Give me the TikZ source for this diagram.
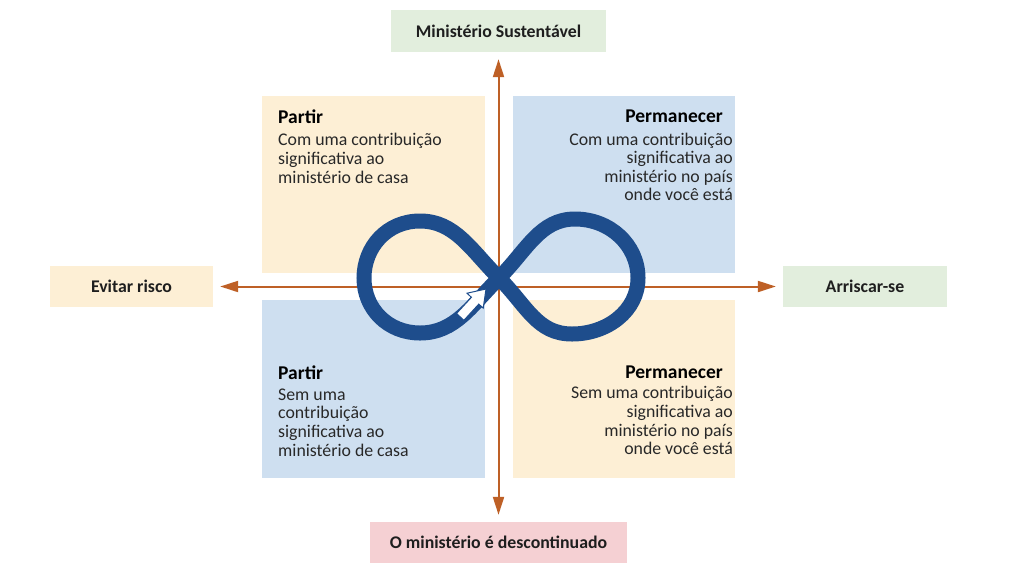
\documentclass[tikz,border=0pt]{standalone}
\usepackage{fontspec}
\setmainfont{Carlito}
\usetikzlibrary{arrows.meta}
\definecolor{lgreen}{RGB}{226,238,221}
\definecolor{lyellow}{RGB}{253,239,213}
\definecolor{lblue}{RGB}{206,223,240}
\definecolor{lpink}{RGB}{245,208,211}
\definecolor{axiscol}{RGB}{190,96,38}
\definecolor{infblue}{RGB}{30,77,140}
\definecolor{txt}{RGB}{30,30,30}
\definecolor{btxt}{RGB}{40,40,40}
\tikzset{
  lab/.style={inner sep=0pt, font=\fontsize{17.8}{20}\selectfont\bfseries, text=txt},
  hdr/.style={inner sep=0pt, font=\fontsize{19.5}{22}\selectfont\bfseries, text=black},
  bodyl/.style={inner sep=0pt, font=\fontsize{17.8}{19}\selectfont, text=btxt},
  axisarrow/.style={draw=axiscol, line width=2pt, -{Triangle[length=18pt,width=11pt]}, shorten >=7pt},
  infline/.style={draw=infblue, line width=15pt},
  blockarrow/.style={fill=white, draw=infblue, line width=1pt, line join=miter}
}
\begin{document}
\begin{tikzpicture}[x=1pt,y=-1pt]
\useasboundingbox (0,0) rectangle (1024,574);
\fill[white] (0,0) rectangle (1024,574);
% quadrants
\fill[lyellow] (262,96) rectangle (485,273);
\fill[lblue] (513,96) rectangle (735,273);
\fill[lblue] (262,300) rectangle (485,478);
\fill[lyellow] (513,300) rectangle (735,478);
% labels
\node[lab, fill=lgreen, minimum width=215pt, minimum height=42pt] (top) at (498.5,31) {Ministério Sustentável};
\node[lab, fill=lyellow, minimum width=163pt, minimum height=41pt] (left) at (131.5,286.5) {Evitar risco};
\node[lab, fill=lgreen, minimum width=164pt, minimum height=41pt] (right) at (865,286.5) {Arriscar-se};
\node[lab, fill=lpink, minimum width=257pt, minimum height=41pt] (bottom) at (498.5,542.5) {O ministério é descontinuado};
% axes
\coordinate (O) at (498.5,286.5);
\draw[axisarrow] (O) -- (top.south);
\draw[axisarrow] (O) -- (bottom.north);
\draw[axisarrow] (O) -- (left.east);
\draw[axisarrow] (O) -- (right.west);
% infinity
\coordinate (C) at (499,278);
\coordinate (RT) at (575,219);
\coordinate (RR) at (638,278);
\coordinate (RB) at (572,334);
\coordinate (LT) at (420,221);
\coordinate (LL) at (364,278);
\coordinate (LB) at (420,333);
\draw[infline] (C) .. controls (527,250) and (540,219) .. (RT)
  .. controls (610,219) and (638,245) .. (RR)
  .. controls (638,311) and (607,334) .. (RB)
  .. controls (537,334) and (527,306) .. (C)
  .. controls (471,250) and (455,221) .. (LT)
  .. controls (387,221) and (364,247) .. (LL)
  .. controls (364,309) and (388,333) .. (LB)
  .. controls (455,333) and (471,306) .. (C) -- cycle;
\draw[blockarrow] (486,289) -- (483.2,308.2) -- (478.8,304.1) -- (463.9,320.3) -- (456.5,313.5) -- (471.4,297.3) -- (467.0,293.2) -- cycle;
% TL text
\node[hdr, anchor=base west] (tlh) at (278,123) {Partir};
\node[bodyl, anchor=base west] (tl1) at (278,145) {Com uma contribuição};
\node[bodyl, anchor=base west] (tl2) at (278,164) {significativa ao};
\node[bodyl, anchor=base west] (tl3) at (278,183) {ministério de casa};
% TR text
\node[hdr, anchor=base east] (trh) at (723,122) {Permanecer};
\node[bodyl, anchor=base east] (tr1) at (733,145) {Com uma contribuição};
\node[bodyl, anchor=base east] (tr2) at (733,163.5) {significativa ao};
\node[bodyl, anchor=base east] (tr3) at (733,182) {ministério no país};
\node[bodyl, anchor=base east] (tr4) at (733,200) {onde você está};
% BL text
\node[hdr, anchor=base west] (blh) at (278,379) {Partir};
\node[bodyl, anchor=base west] (bl1) at (278,400) {Sem uma};
\node[bodyl, anchor=base west] (bl2) at (278,418.5) {contribuição};
\node[bodyl, anchor=base west] (bl3) at (278,437) {significativa ao};
\node[bodyl, anchor=base west] (bl4) at (278,456) {ministério de casa};
% BR text
\node[hdr, anchor=base east] (brh) at (723,378) {Permanecer};
\node[bodyl, anchor=base east] (br1) at (733,398) {Sem uma contribuição};
\node[bodyl, anchor=base east] (br2) at (733,417) {significativa ao};
\node[bodyl, anchor=base east] (br3) at (733,436) {ministério no país};
\node[bodyl, anchor=base east] (br4) at (733,454) {onde você está};
\end{tikzpicture}
\end{document}
